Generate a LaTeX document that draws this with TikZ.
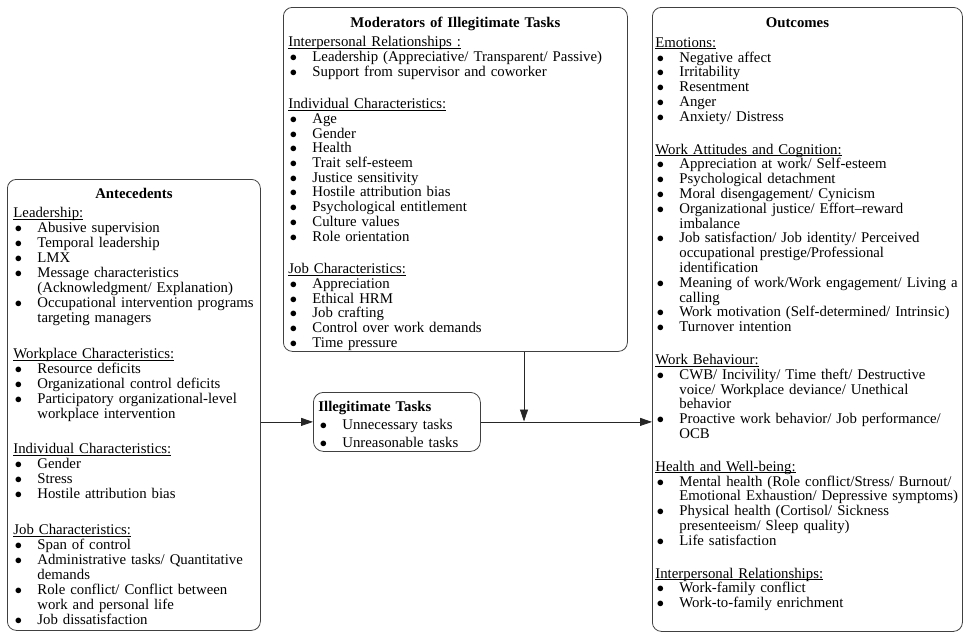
\documentclass[tikz,border=0pt]{standalone}
\usepackage{fontspec}
\setmainfont{Liberation Serif}
\usetikzlibrary{arrows.meta}

\newcommand{\boxhead}[2][0pt]{{\centering\hspace*{#1}\textbf{#2}\par}\vspace{4.5pt}}
\newcommand{\cat}[1]{\noindent\underline{\smash{#1}}\par}
\newcommand{\itm}[1]{\hangindent=24pt\hangafter=1\noindent\makebox[24pt][l]{\hspace{1.5pt}$\bullet$}#1\par}
\newcommand{\gap}[1][18pt]{\vspace{#1}}

\tikzset{
    panel/.style={draw=black!75, line width=0.8pt, rounded corners=9pt, inner xsep=5pt, inner ysep=0pt,
        anchor=north west, align=left, font=\fontsize{14.8}{15}\selectfont},
    link/.style={-{Triangle[length=12pt,width=8pt]}, line width=0.8pt, draw=black!85}
}

\begin{document}
\lineskiplimit=-20pt
\begin{tikzpicture}[x=1pt,y=-1pt]
    \useasboundingbox (0,0) rectangle (963,632);

    \node[panel, inner xsep=6pt, text width=241pt, text height=19pt, text depth=432pt] (ante) at (7,179) {%
        \boxhead{Antecedents}
        \cat{Leadership:}
        \itm{Abusive supervision}
        \itm{Temporal leadership}
        \itm{LMX}
        \itm{Message characteristics\newline (Acknowledgment/ Explanation)}
        \itm{Occupational intervention programs\newline targeting managers}
        \gap[20.5pt]
        \cat{Workplace Characteristics:}
        \itm{Resource deficits}
        \itm{Organizational control deficits}
        \itm{Participatory organizational-level\newline workplace intervention}
        \gap[20.5pt]
        \cat{Individual Characteristics:}
        \itm{Gender}
        \itm{Stress}
        \itm{Hostile attribution bias}
        \gap[20.5pt]
        \cat{Job Characteristics:}
        \itm{Span of control}
        \itm{Administrative tasks/ Quantitative\newline demands}
        \itm{Role conflict/ Conflict between\newline work and personal life}
        \itm{Job dissatisfaction}};

    \node[panel, text width=334pt, text height=20pt, text depth=324pt,
        font=\fontsize{14.8}{14.7}\selectfont] (moder) at (283,7) {%
        \boxhead{Moderators of Illegitimate Tasks}
        \cat{Interpersonal Relationships :}
        \itm{Leadership (Appreciative/ Transparent/ Passive)}
        \itm{Support from supervisor and coworker}
        \gap
        \cat{Individual Characteristics:}
        \itm{Age}
        \itm{Gender}
        \itm{Health}
        \itm{Trait self-esteem}
        \itm{Justice sensitivity}
        \itm{Hostile attribution bias}
        \itm{Psychological entitlement}
        \itm{Culture values}
        \itm{Role orientation}
        \gap
        \cat{Job Characteristics:}
        \itm{Appreciation}
        \itm{Ethical HRM}
        \itm{Job crafting}
        \itm{Control over work demands}
        \itm{Time pressure}};

    \node[panel, rounded corners=10pt, text width=157pt, text height=19pt, text depth=40pt,
        font=\fontsize{14.8}{18}\selectfont] (illeg) at (313,392) {%
        \noindent\textbf{Illegitimate Tasks}\par
        \itm{Unnecessary tasks}
        \itm{Unreasonable tasks}};

    \node[panel, inner xsep=3pt, text width=304pt, text height=20.5pt, text depth=603.5pt,
        font=\fontsize{14.8}{14.8}\selectfont] (outc) at (652,7) {%
        \boxhead[-20pt]{Outcomes}
        \cat{Emotions:}
        \itm{Negative affect}
        \itm{Irritability}
        \itm{Resentment}
        \itm{Anger}
        \itm{Anxiety/ Distress}
        \gap
        \cat{Work Attitudes and Cognition:}
        \itm{Appreciation at work/ Self-esteem}
        \itm{Psychological detachment}
        \itm{Moral disengagement/ Cynicism}
        \itm{Organizational justice/ Effort--reward\newline imbalance}
        \itm{Job satisfaction/ Job identity/ Perceived\newline occupational prestige/Professional\newline identification}
        \itm{Meaning of work/Work engagement/ Living a\newline calling}
        \itm{Work motivation (Self-determined/ Intrinsic)}
        \itm{Turnover intention}
        \gap
        \cat{Work Behaviour:}
        \itm{CWB/ Incivility/ Time theft/ Destructive\newline voice/ Workplace deviance/ Unethical\newline behavior}
        \itm{Proactive work behavior/ Job performance/\newline OCB}
        \gap
        \cat{Health and Well-being:}
        \itm{Mental health (Role conflict/Stress/ Burnout/\newline Emotional Exhaustion/ Depressive symptoms)}
        \itm{Physical health (Cortisol/ Sickness\newline presenteeism/ Sleep quality)}
        \itm{Life satisfaction}
        \gap
        \cat{Interpersonal Relationships:}
        \itm{Work-family conflict}
        \itm{Work-to-family enrichment}};

    % arrows
    \coordinate (join) at (524,421.5);
    \draw[link] (ante.east |- illeg.west) -- (illeg.west);
    \draw[link] (illeg.east) -- (illeg.east -| outc.west);
    \draw[link] (moder.south -| join) -- (join);
\end{tikzpicture}
\end{document}
